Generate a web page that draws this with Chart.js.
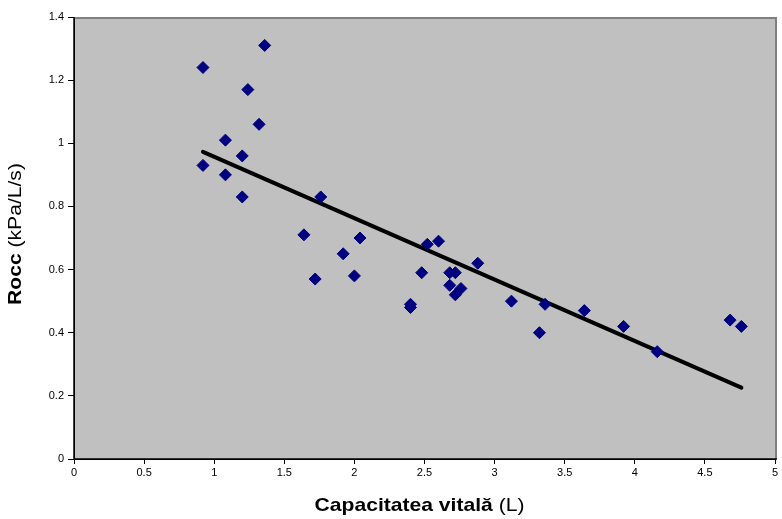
<!DOCTYPE html>
<html>
<head>
<meta charset="utf-8">
<script src="https://cdn.jsdelivr.net/npm/chart.js@4/dist/chart.umd.min.js"></script>
<style>
  html, body { margin: 0; padding: 0; background: #ffffff; }
  #wrap { width: 782px; height: 519px; }
</style>
</head>
<body>
<div id="wrap"><canvas id="c" width="782" height="519"></canvas></div>
<script>
// ---- data ----
const capacitate = [0.92, 1.36, 1.24, 1.32, 1.08, 1.20, 0.92, 1.08, 1.20, 1.76,
                    1.64, 2.04, 1.92, 1.72, 2.00, 2.52, 2.60, 2.48, 2.40, 2.40,
                    2.68, 2.72, 2.68, 2.76, 2.72, 2.88, 3.12, 3.36, 3.32, 3.64,
                    3.92, 4.16, 4.68, 4.76];
const rocc = [1.24, 1.31, 1.17, 1.06, 1.01, 0.96, 0.93, 0.90, 0.83, 0.83,
              0.71, 0.70, 0.65, 0.57, 0.58, 0.68, 0.69, 0.59, 0.49, 0.48,
              0.59, 0.59, 0.55, 0.54, 0.52, 0.62, 0.50, 0.49, 0.40, 0.47,
              0.42, 0.34, 0.44, 0.42];
const trendX = [0.92, 4.76];
const trendY = [0.973, 0.226];
const xTickLabels = ['0', '0.5', '1', '1.5', '2', '2.5', '3', '3.5', '4', '4.5', '5'];
const yTickLabels = ['0', '0.2', '0.4', '0.6', '0.8', '1', '1.2', '1.4'];
const xTitleBold = 'Capacitatea vitală';
const xTitleNormal = ' (L)';
const yTitleBold = 'Rocc';
const yTitleNormal = ' (kPa/L/s)';

const FONT = '"Liberation Sans", Arial, Helvetica, sans-serif';

const points = capacitate.map((x, i) => ({ x: x, y: rocc[i] }));
const trend = trendX.map((x, i) => ({ x: x, y: trendY[i] }));

const plotDecor = {
  id: 'plotDecor',
  beforeDraw(chart) {
    const a = chart.chartArea, ctx = chart.ctx;
    ctx.save();
    ctx.fillStyle = '#ffffff';
    ctx.fillRect(0, 0, chart.width, chart.height);
    ctx.fillStyle = '#C0C0C0';
    ctx.fillRect(a.left, a.top, a.right - a.left, a.bottom - a.top);
    ctx.restore();
  },
  afterDraw(chart) {
    const a = chart.chartArea, ctx = chart.ctx;
    ctx.save();
    // gray top & right frame
    ctx.strokeStyle = '#808080';
    ctx.lineWidth = 2;
    ctx.beginPath();
    ctx.moveTo(a.left, a.top + 1);
    ctx.lineTo(a.right + 1, a.top + 1);
    ctx.lineTo(a.right + 1, a.bottom);
    ctx.stroke();
    // black axes
    ctx.strokeStyle = '#000000';
    ctx.lineWidth = 1.5;
    ctx.beginPath();
    ctx.moveTo(a.left, a.top);
    ctx.lineTo(a.left, a.bottom);
    ctx.lineTo(a.right + 2, a.bottom);
    ctx.stroke();

    // axis titles (bold part + normal part)
    const size = 19, stretch = 1.11;
    const boldF = 'bold ' + size + 'px ' + FONT;
    const normF = size + 'px ' + FONT;
    function drawMixed(b, n) {
      ctx.font = boldF;
      const wb = ctx.measureText(b).width;
      ctx.font = normF;
      const wn = ctx.measureText(n).width;
      const tot = wb + wn;
      ctx.fillStyle = '#000000';
      ctx.textBaseline = 'alphabetic';
      ctx.textAlign = 'left';
      ctx.font = boldF;
      ctx.fillText(b, -tot / 2, 0);
      ctx.font = normF;
      ctx.fillText(n, -tot / 2 + wb, 0);
    }
    // x title
    ctx.save();
    ctx.translate((a.left + a.right) / 2 - 5, 511);
    ctx.scale(stretch, 1);
    drawMixed(xTitleBold, xTitleNormal);
    ctx.restore();
    // y title
    ctx.save();
    ctx.translate(21, 234);
    ctx.rotate(-Math.PI / 2);
    ctx.scale(stretch, 1);
    drawMixed(yTitleBold, yTitleNormal);
    ctx.restore();
    ctx.restore();
  }
};

new Chart(document.getElementById('c'), {
  type: 'scatter',
  data: {
    datasets: [
      {
        label: 'Rocc',
        data: points,
        pointStyle: 'rectRot',
        pointRadius: 6,
        pointHoverRadius: 6,
        backgroundColor: '#000080',
        borderColor: '#000080',
        borderWidth: 1,
        showLine: false,
        order: 1
      },
      {
        label: 'Trend',
        data: trend,
        showLine: true,
        borderColor: '#000000',
        borderWidth: 4,
        pointRadius: 0,
        pointHoverRadius: 0,
        fill: false,
        borderCapStyle: 'round',
        order: 2
      }
    ]
  },
  options: {
    responsive: false,
    animation: false,
    devicePixelRatio: 1,
    layout: { padding: { left: 0, right: 5, top: 17, bottom: 0 } },
    plugins: { legend: { display: false }, tooltip: { enabled: false } },
    scales: {
      x: {
        type: 'linear',
        min: 0, max: 5,
        afterFit(scale) { scale.height = 60; },
        grid: { display: true, drawOnChartArea: false, drawTicks: true, tickLength: 5, color: '#000000', lineWidth: 1 },
        border: { display: true, color: '#000000', width: 1 },
        ticks: {
          stepSize: 0.5,
          padding: 2,
          color: '#000000',
          font: { family: FONT, size: 11 },
          callback: (v, i) => xTickLabels[i]
        }
      },
      y: {
        type: 'linear',
        min: 0, max: 1.4,
        afterFit(scale) { scale.width = 74; },
        grid: { display: true, drawOnChartArea: false, drawTicks: true, tickLength: 6, color: '#000000', lineWidth: 1 },
        border: { display: true, color: '#000000', width: 1 },
        ticks: {
          stepSize: 0.2,
          padding: 4,
          color: '#000000',
          font: { family: FONT, size: 11 },
          callback: (v, i) => yTickLabels[i]
        }
      }
    }
  },
  plugins: [plotDecor]
});
</script>
</body>
</html>
